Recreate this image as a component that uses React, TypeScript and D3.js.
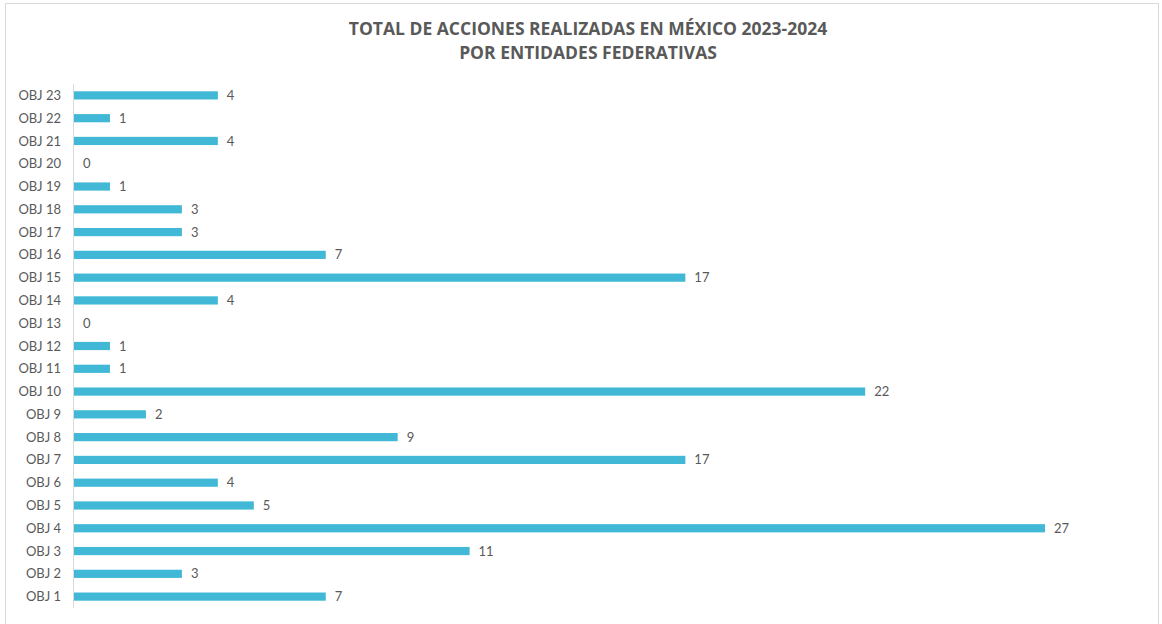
import * as d3 from "d3";

const categories = [
  "OBJ 1", "OBJ 2", "OBJ 3", "OBJ 4", "OBJ 5", "OBJ 6", "OBJ 7", "OBJ 8",
  "OBJ 9", "OBJ 10", "OBJ 11", "OBJ 12", "OBJ 13", "OBJ 14", "OBJ 15", "OBJ 16",
  "OBJ 17", "OBJ 18", "OBJ 19", "OBJ 20", "OBJ 21", "OBJ 22", "OBJ 23",
];
const values = [7, 3, 11, 27, 5, 4, 17, 9, 2, 22, 1, 1, 0, 4, 17, 7, 3, 3, 1, 0, 4, 1, 4];
const titleLines = [
  "TOTAL DE ACCIONES REALIZADAS EN MÉXICO 2023-2024",
  "POR ENTIDADES FEDERATIVAS",
];

export default function App() {
  const width = 1162;
  const height = 624;
  const left = 74;
  const top = 84;
  const bottom = 608;

  const x = d3.scaleLinear().domain([0, 27]).range([left, 1045]);
  // top row is OBJ 23
  const y = d3
    .scaleBand<string>()
    .domain([...categories].reverse())
    .range([top, bottom])
    .paddingInner(0.64)
    .paddingOuter(0.32);

  const barColor = "#40b8d6";
  const textColor = "#595959";
  const labelFont = "'Lato', 'Noto Sans', sans-serif";

  return (
    <div style={{ position: "absolute", left: 0, top: 0 }}>
      <svg width={width} height={height} style={{ display: "block" }}>
        <rect x={0} y={0} width={width} height={height} fill="#fff" />
        <rect x={5.5} y={3.5} width={1153} height={640} fill="none" stroke="#d9d9d9" />

        {titleLines.map((t, i) => (
          <text
            key={i}
            x={588}
            y={35 + i * 24}
            textAnchor="middle"
            fontFamily="'Open Sans', sans-serif"
            fontWeight={700}
            fontSize={17.5}
            fill={textColor}
          >
            {t}
          </text>
        ))}

        <line x1={left - 0.5} x2={left - 0.5} y1={top} y2={bottom} stroke="#d9d9d9" />

        {categories.map((c, i) => {
          const yy = y(c)!;
          const cy = yy + y.bandwidth() / 2;
          return (
            <g key={c}>
              <text
                x={61}
                y={cy}
                dy="0.35em"
                textAnchor="end"
                fontFamily={labelFont}
                fontSize={13}
                fill={textColor}
              >
                {c}
              </text>
              {values[i] > 0 && (
                <rect
                  x={x(0)}
                  y={yy}
                  width={x(values[i]) - x(0)}
                  height={y.bandwidth()}
                  fill={barColor}
                />
              )}
              <text
                x={x(values[i]) + 9}
                y={cy}
                dy="0.35em"
                fontFamily={labelFont}
                fontSize={13}
                fill={textColor}
              >
                {values[i]}
              </text>
            </g>
          );
        })}
      </svg>
    </div>
  );
}
